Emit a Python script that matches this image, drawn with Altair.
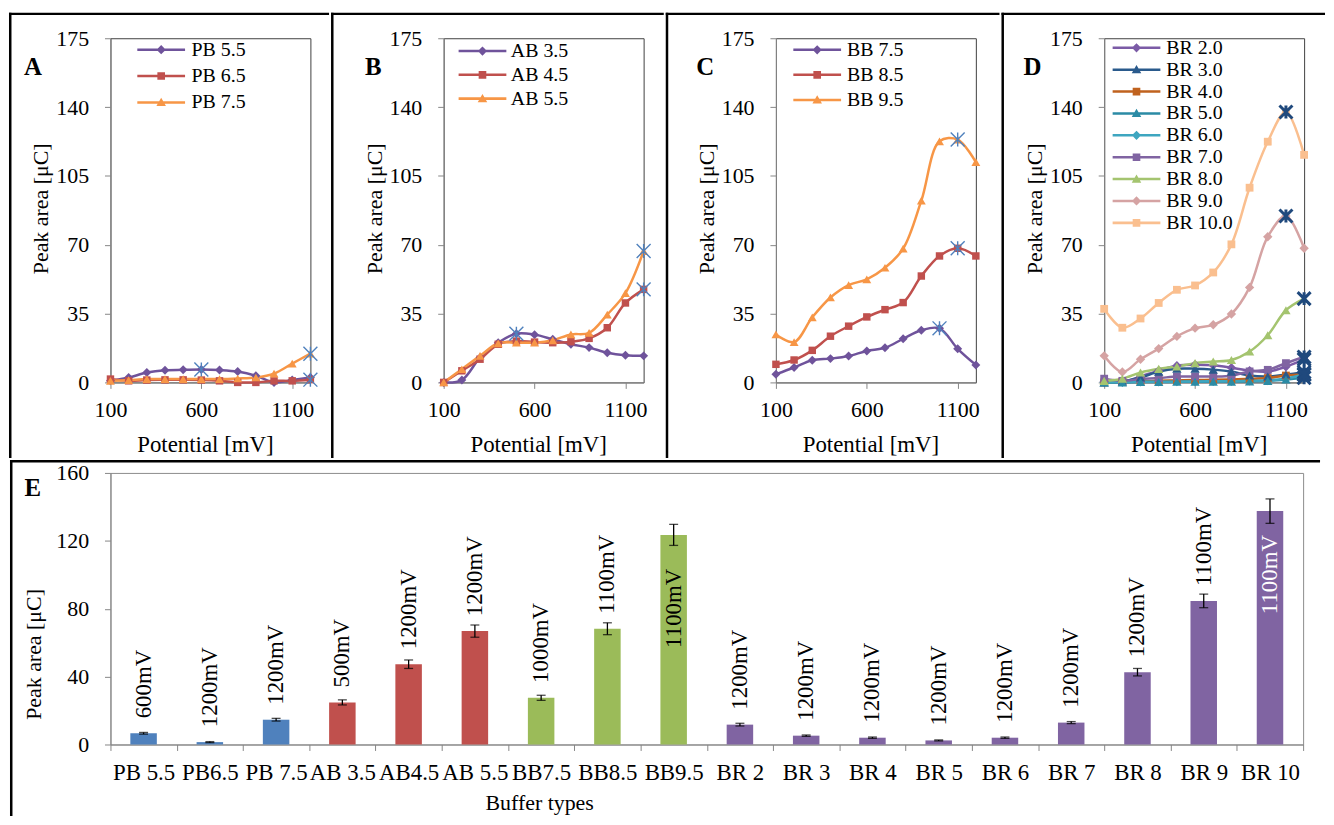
import json
import altair as alt
import pandas as pd

FONT = "Liberation Serif"

# ---------------- data ----------------
potentials = [100, 200, 300, 400, 500, 600, 700, 800, 900, 1000, 1100, 1200]

pb_names = ["PB 5.5", "PB 6.5", "PB 7.5"]
pb_55 = [0.8, 2.5, 5.0, 6.2, 6.4, 6.6, 6.3, 5.5, 3.4, 0.0, 1.2, 2.5]
pb_65 = [1.7, 0.8, 1.2, 1.3, 1.3, 1.2, 0.8, 0.0, 0.0, 0.8, 0.8, 1.4]
pb_75 = [0.8, 1.2, 1.7, 1.7, 1.7, 1.7, 1.7, 2.0, 2.5, 4.5, 9.6, 14.6]

ab_names = ["AB 3.5", "AB 4.5", "AB 5.5"]
ab_35 = [0.0, 1.2, 12.6, 20.2, 24.8, 24.3, 21.9, 19.4, 17.7, 15.1, 13.8, 13.5]
ab_45 = [0.0, 5.9, 11.8, 19.4, 21.0, 20.5, 20.2, 20.7, 22.4, 27.8, 40.4, 47.3]
ab_55 = [0.0, 6.7, 13.5, 19.9, 20.2, 20.2, 21.4, 24.4, 25.2, 34.5, 45.4, 66.8]

bb_names = ["BB 7.5", "BB 8.5", "BB 9.5"]
bb_75 = [4.2, 7.6, 11.3, 12.1, 13.4, 16.0, 17.6, 22.2, 26.5, 27.5, 17.1, 8.9]
bb_85 = [9.2, 11.4, 16.3, 23.5, 28.6, 33.3, 37.0, 40.6, 54.1, 64.3, 68.2, 64.3]
bb_95 = [24.4, 20.5, 33.1, 43.2, 49.5, 52.4, 58.3, 68.0, 92.4, 122.6, 123.5, 112.0]

br_names = ["BR 2.0", "BR 3.0", "BR 4.0", "BR 5.0", "BR 6.0", "BR 7.0", "BR 8.0", "BR 9.0", "BR 10.0"]
br_20 = [0.5, 0.3, 3.0, 6.0, 8.5, 9.0, 8.7, 7.5, 6.0, 5.5, 8.0, 11.7]
br_30 = [0.0, 0.5, 2.5, 5.5, 7.0, 7.0, 6.5, 5.5, 3.5, 3.0, 4.0, 5.2]
br_40 = [0.0, 0.2, 0.5, 0.8, 1.0, 1.2, 1.3, 1.5, 1.8, 2.2, 3.5, 4.0]
br_50 = [0.0, 0.0, 0.2, 0.2, 0.3, 0.3, 0.4, 0.4, 0.5, 0.8, 1.5, 2.4]
br_60 = [0.0, 0.1, 0.3, 0.3, 0.4, 0.5, 0.6, 0.6, 0.8, 1.0, 2.0, 4.0]
br_70 = [1.9, 0.8, 1.7, 2.2, 3.0, 3.0, 3.0, 3.4, 5.6, 6.4, 9.8, 12.9]
br_80 = [0.8, 1.9, 5.0, 6.9, 8.1, 9.8, 10.6, 11.4, 15.7, 24.0, 36.7, 42.6]
br_90 = [13.5, 5.3, 11.8, 17.2, 23.4, 27.6, 29.3, 34.8, 48.3, 74.1, 84.6, 68.2]
br_100 = [37.4, 27.8, 32.5, 40.4, 47.1, 49.3, 55.9, 70.2, 99.0, 122.4, 137.5, 115.7]

e_cats = ["PB 5.5", "PB6.5", "PB 7.5", "AB 3.5", "AB4.5", "AB 5.5", "BB7.5", "BB8.5", "BB9.5",
          "BR 2", "BR 3", "BR 4", "BR 5", "BR 6", "BR 7", "BR 8", "BR 9", "BR 10"]
e_series = pb_names + ab_names + bb_names + br_names
e_group = ["PB"] * 3 + ["AB"] * 3 + ["BB"] * 3 + ["BR"] * 9
e_vals = [6.6, 1.4, 14.6, 24.8, 47.3, 66.8, 27.5, 68.2, 123.5, 11.7, 5.2, 4.0, 2.4, 4.0, 12.9, 42.6, 84.6, 137.5]
e_err = [0.5, 0.3, 0.8, 1.5, 2.5, 3.6, 1.5, 3.5, 6.2, 0.8, 0.4, 0.4, 0.3, 0.4, 0.6, 2.2, 4.0, 7.2]
e_mv = [600, 1200, 1200, 500, 1200, 1200, 1000, 1100, 1100, 1200, 1200, 1200, 1200, 1200, 1200, 1200, 1100, 1100]

# ---------------- styles ----------------
GRAY = "#868686"
STAR = "M-1,-1L1,1M-1,1L1,-1M0,-1L0,1"
LINE = "M-3,-0.16L3,-0.16L3,0.16L-3,0.16Z"
LEG = {
    "diamond": LINE + " M0,-0.58L0.58,0L0,0.58L-0.58,0Z",
    "square": LINE + " M-0.48,-0.48L0.48,-0.48L0.48,0.48L-0.48,0.48Z",
    "triangle-up": LINE + " M0,-0.58L0.6,0.45L-0.6,0.45Z",
}
MK_SIZE = {"diamond": 81, "square": 56, "triangle-up": 80}

one = pd.DataFrame({"k": [0]})
W, H = 201, 346
TOP_Y = 35
ORIG_X = [110, 443, 775, 1103]          # plot-area origins (page px)
CELL_L = [8, 329.75, 664.25, 999.75, 1325]
TOP_T, TOP_B = 9.25, 457.05              # outer edges of the frame bars
E_ORIG = (109, 470)
E_T, E_B = 457.05, 815
SW = 2.5


def frame(L, R, T, B, origin):
    """Black border bars (left + top) drawn as filled rects so bounds are exact."""
    ox, oy = origin
    v = alt.Chart(one).mark_rect(color="black", strokeWidth=0).encode(
        x=alt.value(L - ox), x2=alt.value(L + SW - ox), y=alt.value(T - oy), y2=alt.value(B - oy))
    h = alt.Chart(one).mark_rect(color="black", strokeWidth=0).encode(
        x=alt.value(L - ox), x2=alt.value(R - ox), y=alt.value(T - oy), y2=alt.value(T + SW - oy))
    return [v, h]


def letter(txt, px, py, origin):
    return alt.Chart(one).mark_text(text=txt, fontSize=25, fontWeight="bold", align="left",
                                    baseline="alphabetic", color="black").encode(
        x=alt.value(px - origin[0]), y=alt.value(py - origin[1]))


x_axis = alt.Axis(values=[100, 600, 1100], format="d", title="Potential [mV]", titleFontSize=23,
                  titleFontWeight="normal", titleColor="black", labelColor="black",
                  labelFontSize=22, labelPadding=11, labelFlush=False, labelOverlap=False,
                  tickSize=6, tickColor=GRAY, domainColor=GRAY, grid=False,
                  titleX=95, titleY=62, titleAlign="center", titleBaseline="middle")
y_axis = alt.Axis(values=[0, 35, 70, 105, 140, 175], title="Peak area [μC]", titleFontSize=22,
                  titleFontWeight="normal", titleColor="black", labelColor="black",
                  labelFontSize=22, labelPadding=16, labelFlush=False, labelOverlap=False,
                  tickSize=6, tickColor=GRAY, domainColor=GRAY, grid=False,
                  titleX=-70, titleY=171, titleAngle=270, titleAlign="center",
                  titleBaseline="middle")


def line_panel(idx, let, let_x, names, series, colors, markers, leg, star_col, star_w, star_size,
               mk_scale=1.0):
    origin = (ORIG_X[idx], TOP_Y)
    rows = [dict(mv=p, val=v, series=n) for n, s in zip(names, series) for p, v in zip(potentials, s)]
    df = pd.DataFrame(rows)
    cs = alt.Scale(domain=names, range=colors)
    x = alt.X("mv:Q", scale=alt.Scale(domain=[100, 1200], nice=False, zero=False), axis=x_axis)
    y = alt.Y("val:Q", scale=alt.Scale(domain=[0, 175], nice=False), axis=y_axis)
    col = alt.Color("series:N", scale=cs, legend=None)
    base = alt.Chart(df)
    lx, ly, lo, rp = leg
    lg = alt.Legend(orient="none", legendX=lx, legendY=ly, title=None, labelFontSize=20,
                    labelColor="black", symbolSize=256, symbolStrokeWidth=0, labelOffset=lo,
                    rowPadding=rp, padding=0, symbolOpacity=1, labelBaseline="middle")
    # legend-carrying layer first, so its legend definition wins the merge
    layers = [base.transform_filter("false").mark_point(filled=True, opacity=1).encode(
        x=x, y=y,
        color=alt.Color("series:N", scale=cs, legend=lg),
        shape=alt.Shape("series:N", scale=alt.Scale(domain=names, range=[LEG[m] for m in markers]),
                        legend=lg))]
    layers.append(base.mark_line(interpolate="catmull-rom", strokeWidth=2.5).encode(x=x, y=y, color=col))
    for shp in ["diamond", "square", "triangle-up"]:
        sel = [n for n, m in zip(names, markers) if m == shp]
        if not sel:
            continue
        layers.append(
            base.transform_filter(alt.FieldOneOfPredicate(field="series", oneOf=sel))
            .mark_point(shape=shp, filled=True, size=MK_SIZE[shp] * mk_scale, opacity=1, strokeWidth=0)
            .encode(x=x, y=y, color=col))
    star_df = pd.DataFrame([dict(mv=m, val=v, series=s) for s, m, v in zip(e_series, e_mv, e_vals) if s in names])
    layers.append(alt.Chart(star_df).mark_point(shape=STAR, filled=False, size=star_size,
                                                strokeWidth=star_w, color=star_col, opacity=1)
                  .encode(x=x, y=y))
    layers.append(letter(let, let_x, 71.7, origin))
    layers += frame(CELL_L[idx], CELL_L[idx + 1], TOP_T, TOP_B, origin)
    return alt.layer(*layers).properties(
        width=W, height=H, view=alt.ViewBackground(stroke="#404040", strokeWidth=1))


PAL3 = ["#6f539b", "#c0504d", "#f79646"]
MK3 = ["diamond", "square", "triangle-up"]
A = line_panel(0, "A", 23, pb_names, [pb_55, pb_65, pb_75], PAL3, MK3, (41, 1.5, 20.5, 6.5), "#4f81bd", 1.4, 196)
B = line_panel(1, "B", 364, ab_names, [ab_35, ab_45, ab_55], PAL3, MK3, (29, 2.9, 18.5, 3.9), "#4f81bd", 1.4, 196)
C = line_panel(2, "C", 695, bb_names, [bb_75, bb_85, bb_95], PAL3, MK3, (31.5, 1.6, 20, 5.2), "#4f81bd", 1.4, 196)
D = line_panel(3, "D", 1022, br_names,
               [br_20, br_30, br_40, br_50, br_60, br_70, br_80, br_90, br_100],
               ["#7b5ba6", "#2a5a8c", "#c0621e", "#2b8ba5", "#3ea6c0", "#8064a2", "#a4c46f", "#d5a3a3", "#fabf8f"],
               ["diamond", "triangle-up", "square", "triangle-up", "diamond", "square", "triangle-up",
                "diamond", "square"],
               (22.5, -0.4, 20, 2), "#1f497d", 3, 170, 1.1)

# ---------------- panel E ----------------
edf = pd.DataFrame(dict(cat=e_cats, val=e_vals, err=e_err, mv=e_mv, grp=e_group))
ebase = alt.Chart(edf).transform_calculate(lo="datum.val - datum.err", hi="datum.val + datum.err",
                                           lab="datum.mv + 'mV'")
ex = alt.X("cat:N", sort=e_cats, scale=alt.Scale(domain=e_cats, paddingInner=0, paddingOuter=0),
           axis=alt.Axis(title="Buffer types", titleFontSize=22, titleFontWeight="normal",
                         titleColor="black", labelColor="black", labelFontSize=23, labelAngle=0,
                         labelPadding=11, labelFlush=False, labelOverlap=False, labelBound=False,
                         tickBand="extent", tickSize=6, tickColor=GRAY, domainColor=GRAY,
                         grid=False, titleX=431, titleY=58, titleAlign="center",
                         titleBaseline="middle"))
e_yaxis = alt.Axis(values=[0, 40, 80, 120, 160], title="Peak area [μC]", titleFontSize=22,
                   titleFontWeight="normal", titleColor="black", labelColor="black",
                   labelFontSize=22, labelPadding=16, labelFlush=False, tickSize=6,
                   tickColor=GRAY, domainColor=GRAY, grid=False, titleX=-77, titleY=182,
                   titleAngle=270, titleAlign="center", titleBaseline="middle")
e_yscale = alt.Scale(domain=[0, 160], nice=False)


def ey(field):
    return alt.Y(field, scale=e_yscale, axis=e_yaxis)


inside = [("BB9.5", "black", -34), ("BR 10", "white", -24)]
inside_names = [c for c, _, _ in inside]

e_layers = [
    ebase.mark_bar(width=alt.RelativeBandSize(0.4)).encode(
        x=ex, y=ey("val:Q"),
        color=alt.Color("grp:N", scale=alt.Scale(domain=["PB", "AB", "BB", "BR"],
                                                 range=["#4f81bd", "#c0504d", "#9bbb59", "#8064a2"]),
                        legend=None)),
    ebase.mark_rule(color="black", strokeWidth=1.3).encode(x=ex, y=ey("lo:Q"), y2="hi:Q"),
    ebase.mark_tick(color="black", thickness=1.3, size=9).encode(x=ex, y=ey("lo:Q")),
    ebase.mark_tick(color="black", thickness=1.3, size=9).encode(x=ex, y=ey("hi:Q")),
    ebase.transform_filter("indexof(%s, datum.cat) < 0" % json.dumps(inside_names))
    .mark_text(angle=270, align="left", baseline="middle", dx=15, fontSize=23, color="black")
    .encode(x=ex, y=ey("val:Q"), text="lab:N"),
]
for cat, colr, dx in inside:
    e_layers.append(
        ebase.transform_filter(alt.datum.cat == cat)
        .mark_text(angle=270, align="right", baseline="middle", dx=dx, fontSize=23, color=colr)
        .encode(x=ex, y=ey("val:Q"), text="lab:N"))
e_layers.append(letter("E", 22.5, 493, E_ORIG))
e_layers += frame(8, 1325, E_T, E_B, E_ORIG)

E = alt.layer(*e_layers).properties(width=1199, height=273,
                                    view=alt.ViewBackground(stroke="#8c8c8c", strokeWidth=1))

top = alt.hconcat(A, B, C, D, spacing=0).resolve_scale(color="independent", shape="independent")
chart = alt.vconcat(top, E, spacing=0).resolve_scale(
    color="independent", shape="independent").properties(
    padding={"left": 0, "top": 1.25, "right": 0, "bottom": 0}
).configure(font=FONT)

chart.save("out.html", embed_options={"renderer": "svg", "actions": False})
